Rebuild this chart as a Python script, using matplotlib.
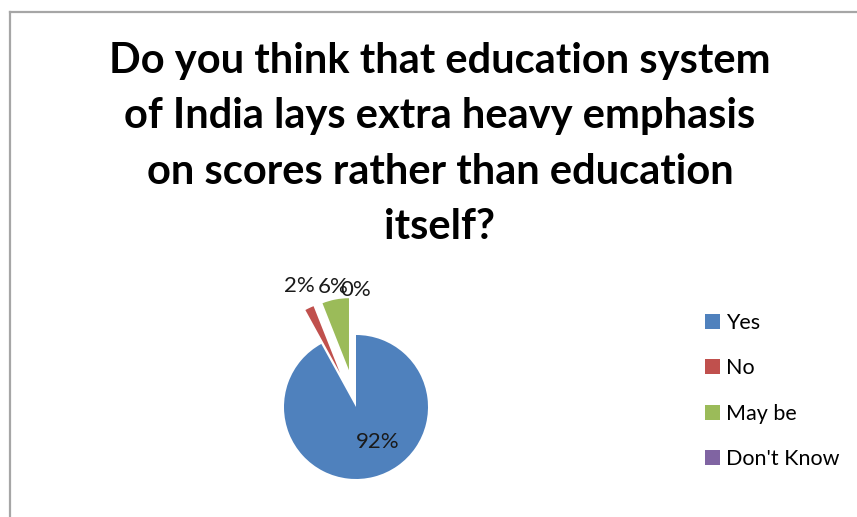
import numpy as np
import matplotlib.pyplot as plt
from matplotlib.lines import Line2D
from matplotlib.patches import Patch

answers = ['Yes', 'No', 'May be', "Don't Know"]
shares = [92, 2, 6, 0]
colors = ['#4f81bd', '#c0504d', '#9bbb59', '#8064a2']
explode = [0, 0.52, 0.52, 0.52]
label_dist = [0.5, 1.33, 1.18, 1.1]

title = ('Do you think that education system\n'
         'of India lays extra heavy emphasis\n'
         'on scores rather than education\n'
         'itself?')

W, H = 857, 517
fig = plt.figure(figsize=(W / 100, H / 100), dpi=100)

# pie axes: one data unit = 72 px, pie centre at pixel (356, 407)
r = 72
cx, cy = 356, 407
ax = fig.add_axes([(cx - 2.5 * r) / W, 0, 5 * r / W, 1])
wedges, _ = ax.pie(shares, colors=colors, startangle=90, counterclock=False,
                   explode=explode, wedgeprops=dict(linewidth=0))
ax.set_aspect('auto')
ax.set_xlim(-2.5, 2.5)
ax.set_ylim(-(H - cy) / r, cy / r)
ax.axis('off')

for i, (w, v, d) in enumerate(zip(wedges, shares, label_dist)):
    mid = np.deg2rad((w.theta1 + w.theta2) / 2)
    x0, y0 = w.center
    x, y = x0 + d * np.cos(mid), y0 + d * np.sin(mid)
    if i == 0:
        # big slice label sits a little right of its bisector
        x += 0.17
    ax.text(x, y, f'{v}%', ha='center', va='center', fontsize=16,
            family='Lato', color='#1a1a1a')

fig.text(440 / W, 1 - 144 / H, title, ha='center', va='center',
         fontsize=30, fontweight='bold', family='Lato', linespacing=1.55)

handles = [Patch(facecolor=c, edgecolor='none') for c in colors]
fig.legend(handles, answers, loc='center left', bbox_to_anchor=(686 / W, 1 - 391 / H),
           frameon=False, prop=dict(family='Lato', size=15.5),
           handlelength=0.7, handleheight=0.7, handletextpad=0.25,
           labelspacing=1.18)

# chart area border (left and top edges)
fig.add_artist(Line2D([9.5 / W, 9.5 / W], [0, 1 - 12 / H], color='#a6a6a6', lw=1.6))
fig.add_artist(Line2D([9.5 / W, 1], [1 - 12 / H, 1 - 12 / H], color='#a6a6a6', lw=1.6))

fig.savefig('out.png', dpi=100, facecolor='white')
